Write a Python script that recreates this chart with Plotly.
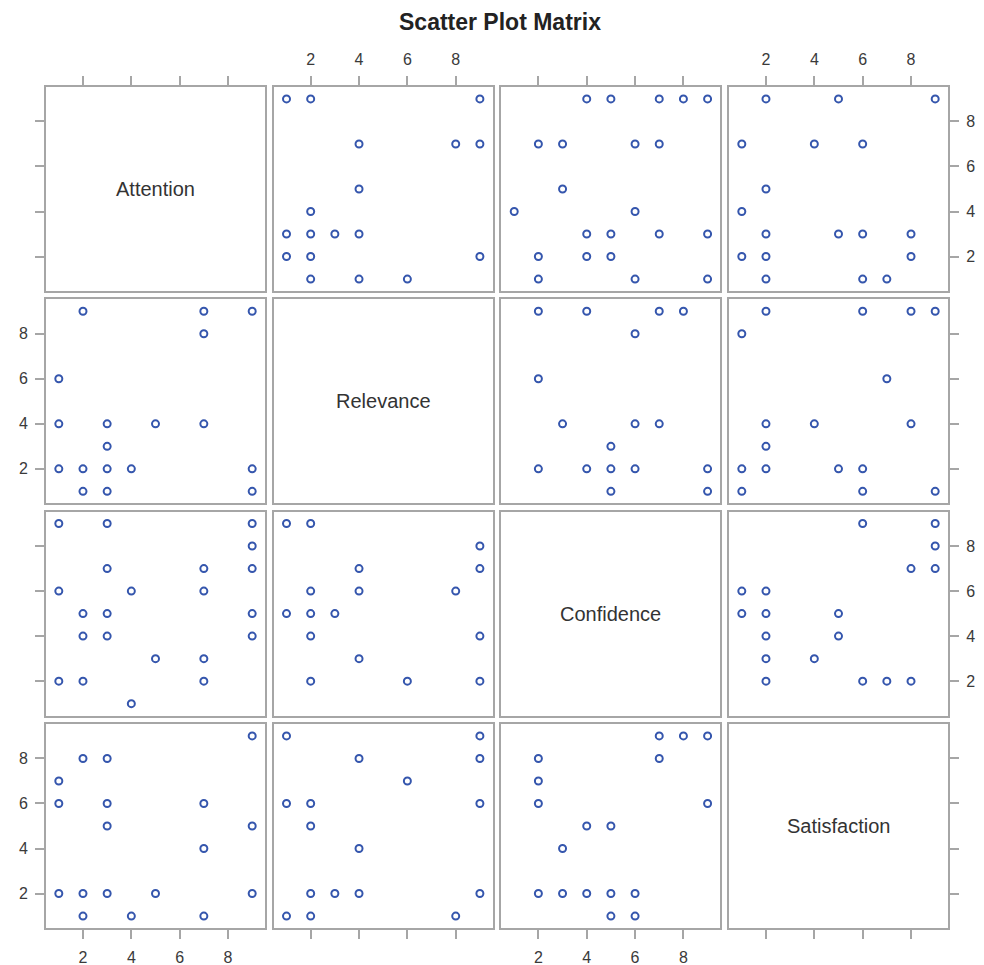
import plotly.graph_objects as go

# ---- Data ----
variables = ["Attention", "Relevance", "Confidence", "Satisfaction"]
tick_values = [2, 4, 6, 8]
tick_labels = ["2", "4", "6", "8"]

# Attention vs Relevance (distinct observed pairs)
ar_attention = [2, 7, 9, 7, 1, 1, 3, 5, 7, 3, 1, 2, 3, 4, 9, 2, 3, 9]
ar_relevance = [9, 9, 9, 8, 6, 4, 4, 4, 4, 3, 2, 2, 2, 2, 2, 1, 1, 1]

# Attention vs Confidence
ac_attention = [1, 3, 9, 9, 3, 7, 9, 1, 4, 7, 2, 3, 9, 2, 3, 9, 5, 7, 1, 2, 7, 4]
ac_confidence = [9, 9, 9, 8, 7, 7, 7, 6, 6, 6, 5, 5, 5, 4, 4, 4, 3, 3, 2, 2, 2, 1]

# Attention vs Satisfaction
as_attention = [9, 2, 3, 1, 1, 3, 7, 3, 9, 7, 1, 2, 3, 5, 9, 2, 4, 7]
as_satisfaction = [9, 8, 8, 7, 6, 6, 6, 5, 5, 4, 2, 2, 2, 2, 2, 1, 1, 1]

# Relevance vs Confidence
rc_relevance = [1, 2, 9, 4, 9, 2, 4, 8, 1, 2, 3, 2, 9, 4, 2, 6, 9]
rc_confidence = [9, 9, 8, 7, 7, 6, 6, 6, 5, 5, 5, 4, 4, 3, 2, 2, 2]

# Relevance vs Satisfaction
rs_relevance = [1, 9, 4, 9, 6, 1, 2, 9, 2, 4, 2, 3, 4, 9, 1, 2, 8]
rs_satisfaction = [9, 9, 8, 8, 7, 6, 6, 6, 5, 4, 2, 2, 2, 2, 1, 1, 1]

# Confidence vs Satisfaction
cs_confidence = [7, 8, 9, 2, 7, 2, 2, 9, 4, 5, 3, 2, 3, 4, 5, 6, 5, 6]
cs_satisfaction = [9, 9, 9, 8, 8, 7, 6, 6, 5, 5, 4, 2, 2, 2, 2, 2, 1, 1]

pairs = {
    (0, 1): (ar_attention, ar_relevance),
    (0, 2): (ac_attention, ac_confidence),
    (0, 3): (as_attention, as_satisfaction),
    (1, 2): (rc_relevance, rc_confidence),
    (1, 3): (rs_relevance, rs_satisfaction),
    (2, 3): (cs_confidence, cs_satisfaction),
}

def get_xy(c, r):
    """x values for variable c, y values for variable r."""
    if c < r:
        a, b = pairs[(c, r)]
        return a, b
    a, b = pairs[(r, c)]
    return b, a

# ---- Layout geometry (pixels in the page; page body adds an 8px offset) ----
W, H = 984, 965
OFF = 8
col_px = [(46, 265), (273.7, 492.7), (501.4, 720.4), (729, 948)]
row_px = [(87, 291), (299.3, 503.3), (511.6, 715.6), (724, 928)]
RANGE = [0.47, 9.53]

border = "#a6a6a6"
FONT = "Liberation Sans, Arial, sans-serif"
tick_font = dict(family=FONT, size=16, color="#3a3a3a")
marker_color = "#3556ad"

fig = go.Figure()
layout = {}

for r in range(4):
    for c in range(4):
        k = r * 4 + c + 1
        xname = "xaxis" if k == 1 else f"xaxis{k}"
        yname = "yaxis" if k == 1 else f"yaxis{k}"
        xref = "x" if k == 1 else f"x{k}"
        yref = "y" if k == 1 else f"y{k}"

        x0, x1 = col_px[c]
        y0, y1 = row_px[r]

        xa = dict(domain=[(x0 - OFF) / W, (x1 - OFF) / W], range=RANGE, anchor=yref,
                  showgrid=False, zeroline=False, showline=True, mirror=True,
                  linecolor=border, linewidth=2, tickvals=tick_values,
                  ticktext=tick_labels, tickfont=tick_font, ticks="",
                  showticklabels=False, tickcolor=border, ticklen=9, tickwidth=1.5,
                  ticklabelstandoff=5, fixedrange=True)
        ya = dict(domain=[1 - (y1 - OFF) / H, 1 - (y0 - OFF) / H], range=RANGE, anchor=xref,
                  showgrid=False, zeroline=False, showline=True, mirror=True,
                  linecolor=border, linewidth=2, tickvals=tick_values,
                  ticktext=tick_labels, tickfont=tick_font, ticks="",
                  showticklabels=False, tickcolor=border, ticklen=9, tickwidth=1.5,
                  ticklabelstandoff=4, fixedrange=True)

        if r == 0:
            xa.update(side="top", ticks="outside", showticklabels=(c % 2 == 1))
        if r == 3:
            xa.update(side="bottom", ticks="outside", showticklabels=(c % 2 == 0))
        if c == 0:
            ya.update(side="left", ticks="outside", showticklabels=(r % 2 == 1))
        if c == 3:
            ya.update(side="right", ticks="outside", showticklabels=(r % 2 == 0))

        layout[xname] = xa
        layout[yname] = ya

        if r == c:
            fig.add_annotation(
                x=5, y=5, xref=xref, yref=yref, text=variables[r],
                showarrow=False,
                font=dict(family=FONT, size=20, color="#333333"),
            )
        else:
            xs, ys = get_xy(c, r)
            fig.add_trace(go.Scatter(
                x=xs, y=ys, xaxis=xref, yaxis=yref, mode="markers",
                marker=dict(symbol="circle-open", size=7, color=marker_color,
                            line=dict(width=2, color=marker_color)),
                showlegend=False, hoverinfo="skip",
            ))

fig.update_layout(**layout)
fig.add_annotation(
    x=(500 - OFF) / W, y=1 - (22 - OFF) / H, xref="paper", yref="paper",
    text="<b>Scatter Plot Matrix</b>",
    showarrow=False, xanchor="center", yanchor="middle",
    font=dict(family=FONT, size=23, color="#222222"),
)
fig.update_layout(
    width=W, height=H, margin=dict(l=0, r=0, t=0, b=0),
    paper_bgcolor="white", plot_bgcolor="white", showlegend=False,
)

fig.write_html("out.html")
